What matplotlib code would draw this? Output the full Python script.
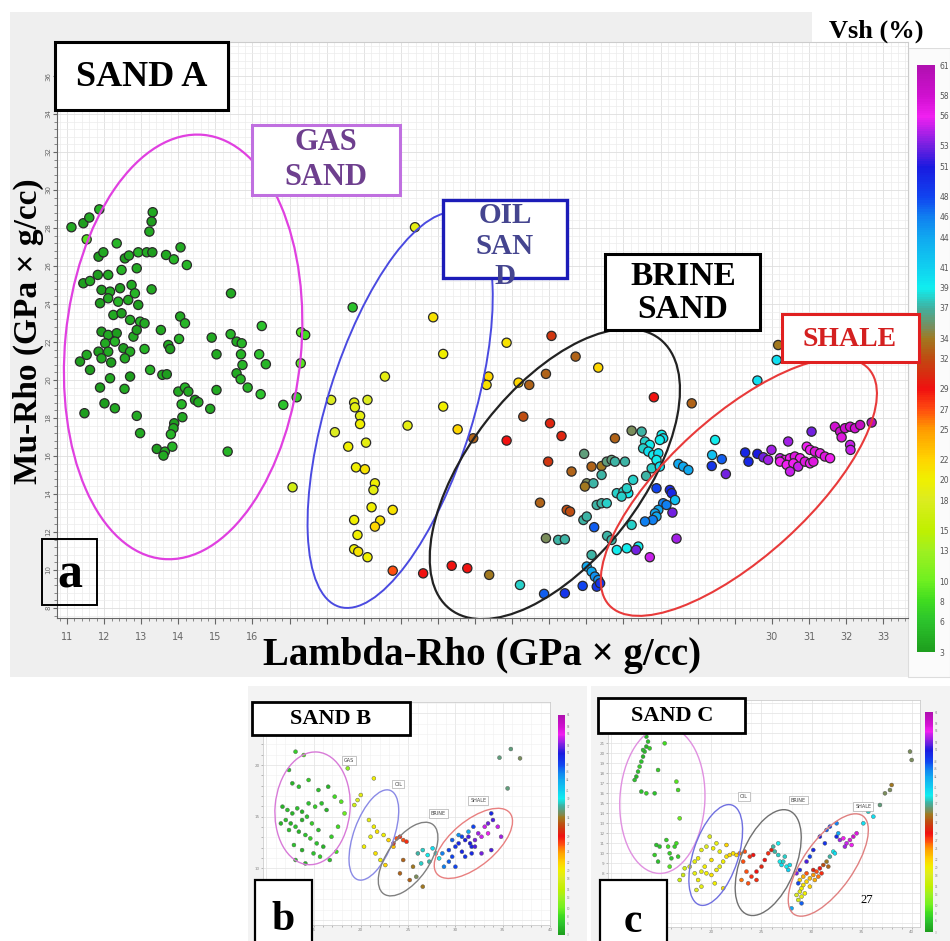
import numpy as np
import matplotlib
matplotlib.use("Agg")
from matplotlib import pyplot as plt
from matplotlib.colors import LinearSegmentedColormap
from matplotlib.patches import Ellipse, Rectangle
from matplotlib.transforms import ScaledTranslation
from matplotlib.ticker import MultipleLocator

# ---------------- data: panel a (SAND A) ----------------
gas_a_x = [11.12, 11.44, 11.60, 11.87, 11.53, 13.31, 13.28, 13.22, 12.34, 11.85,
           11.98, 12.56, 12.67, 12.92, 13.15, 13.30, 13.67, 13.88, 14.06, 14.23,
           11.44, 11.62, 11.83, 12.11, 12.47, 12.88, 11.93, 12.16, 12.43, 12.74,
           12.83, 13.28, 11.89, 12.11, 12.38, 12.65, 12.92, 12.25, 12.47, 12.70,
           12.97, 13.09, 14.05, 14.18, 15.42, 16.25, 17.31, 17.42, 11.93, 12.11,
           12.34, 12.03, 12.29, 12.79, 12.88, 13.53, 14.02, 13.73, 13.78, 14.90,
           15.41, 15.57, 15.71, 11.85, 12.11, 12.52, 12.70, 13.09, 15.03, 15.69,
           16.18, 16.36, 17.30, 11.35, 11.53, 11.62, 11.93, 12.19, 12.56, 13.24,
           13.57, 13.69, 15.73, 15.57, 15.68, 12.16, 12.70, 15.03, 15.87, 16.22,
           17.19, 16.83, 11.89, 12.55, 14.00, 14.18, 14.27, 14.45, 14.54, 12.01,
           12.29, 11.47, 12.88, 14.09, 14.86, 14.11, 13.89, 13.87, 13.80, 12.97,
           13.42, 13.64, 13.84, 13.60, 15.33, 18.70]
gas_a_y = [28.04, 28.25, 28.55, 28.98, 27.40, 28.83, 28.34, 27.81, 27.19, 26.49,
           26.72, 26.40, 26.55, 26.72, 26.72, 26.72, 26.58, 26.35, 26.98, 26.05,
           25.09, 25.21, 25.53, 25.53, 25.79, 25.88, 24.74, 24.65, 24.83, 25.00,
           24.56, 24.77, 24.04, 24.30, 24.12, 24.21, 23.95, 23.42, 23.51, 23.16,
           23.07, 22.98, 23.34, 22.98, 24.56, 22.84, 22.51, 22.37, 22.54, 22.37,
           22.46, 21.93, 22.02, 22.28, 22.63, 22.63, 22.16, 21.84, 21.63, 22.23,
           22.41, 22.02, 21.93, 21.49, 21.49, 21.67, 21.49, 21.63, 21.35, 21.35,
           21.35, 20.83, 20.88, 20.97, 21.32, 20.53, 21.14, 20.92, 21.14, 20.53,
           20.27, 20.30, 20.79, 20.35, 20.04, 20.09, 20.18, 19.47, 19.60, 19.25,
           19.09, 18.69, 19.60, 19.53, 19.39, 19.60, 19.39, 18.95, 18.83, 18.77,
           18.51, 18.25, 18.11, 18.72, 18.48, 18.04, 17.72, 17.46, 17.14, 17.20,
           16.37, 16.23, 16.49, 16.02, 16.23, 23.82]
gas_a_v = [4, 3, 4, 5, 9, 4, 3, 4, 5, 3, 4, 3, 4, 5, 4, 3, 4, 5, 4, 5,
           3, 4, 3, 4, 5, 4, 3, 4, 3, 4, 5, 4, 3, 4, 5, 4, 3, 4, 3, 4,
           5, 4, 4, 5, 4, 6, 9, 8, 3, 4, 3, 4, 5, 4, 3, 4, 5, 4, 3, 4,
           5, 4, 5, 3, 4, 3, 4, 5, 4, 5, 6, 5, 9, 3, 4, 3, 4, 3, 4, 5,
           4, 3, 5, 4, 5, 4, 3, 4, 5, 6, 7, 6, 3, 4, 4, 5, 4, 3, 4, 3,
           4, 3, 4, 5, 4, 4, 3, 4, 5, 4, 3, 4, 5, 4, 5, 6]

oil_a_x = [20.38, 20.87, 21.14, 22.85, 19.57, 18.12, 18.74, 18.76, 19.10, 18.90,
           18.90, 18.22, 20.18, 21.14, 21.53, 22.36, 22.31, 23.17, 18.58, 19.06,
           18.79, 19.03, 19.30, 19.26, 17.08, 19.21, 19.78, 18.74, 19.44, 19.30,
           18.83, 18.74, 18.85, 19.10]
oil_a_y = [28.04, 23.30, 21.37, 21.96, 20.18, 18.95, 18.81, 18.56, 18.95, 18.11,
           17.68, 17.25, 17.60, 18.60, 17.40, 20.18, 19.74, 19.86, 16.49, 16.70,
           15.40, 15.30, 14.56, 14.21, 14.35, 13.30, 13.16, 12.63, 12.60, 12.28,
           11.84, 11.09, 10.96, 10.67]
oil_a_v = [19, 21, 20, 21, 19, 18, 19, 19, 18, 19, 20, 18, 19, 20, 22, 22, 21,
           22, 20, 19, 20, 21, 20, 19, 17, 20, 21, 20, 21, 22, 20, 20, 21, 20]

brine_a_x = [21.95, 23.30, 22.85, 19.78, 20.60, 21.37, 21.79, 22.38, 23.21,
             24.06, 24.71, 25.32, 23.91, 23.46, 26.82, 24.02, 24.33, 25.77, 26.22,
             26.49, 27.03, 27.07, 26.98, 26.58, 26.71, 26.53, 26.67, 26.80, 26.94,
             26.89, 23.97, 24.94, 24.60, 25.14, 25.41, 25.55, 25.68, 25.77, 26.04,
             25.41, 25.01, 25.19, 24.96, 26.26, 26.61, 26.76, 26.98, 27.48, 27.61,
             27.75, 25.82, 26.00, 26.13, 26.09, 25.95, 25.28, 25.41, 25.55, 23.75,
             24.47, 24.56, 24.92, 25.01, 25.21, 26.89, 27.25, 27.30, 27.07, 27.16,
             27.39, 26.94, 26.85, 26.89, 26.79, 26.58, 27.32, 26.22, 27.43, 25.56,
             25.68, 25.82, 26.09, 26.40, 26.34, 26.71, 23.91, 24.24, 24.42, 25.14,
             25.01, 25.14, 25.23, 25.32, 24.90, 25.28, 25.37, 24.42, 23.86]
brine_a_y = [16.93, 18.07, 16.81, 9.96, 9.82, 10.22, 10.09, 9.74, 9.21,
             22.32, 21.23, 20.65, 20.32, 19.74, 19.09, 17.72, 17.05, 16.93, 17.33,
             17.28, 17.11, 16.93, 16.84, 16.76, 16.58, 16.40, 16.23, 16.05, 16.14,
             15.79, 15.70, 16.11, 15.18, 15.44, 15.47, 15.70, 15.79, 15.70, 15.70,
             15.00, 14.56, 14.56, 14.39, 14.74, 14.95, 15.35, 15.44, 15.58, 15.44,
             15.26, 14.04, 14.12, 14.04, 14.30, 13.86, 13.42, 13.51, 13.51, 13.54,
             13.16, 13.07, 12.63, 12.81, 12.25, 14.30, 14.21, 14.04, 13.51, 13.42,
             13.68, 13.16, 12.98, 12.81, 12.63, 12.55, 13.02, 12.37, 11.65, 11.79,
             11.58, 11.05, 11.14, 11.23, 11.05, 10.67, 11.67, 11.58, 11.61, 10.79,
             10.18, 9.91, 9.65, 9.47, 9.16, 9.12, 9.30, 8.77, 8.74]
brine_a_v = [33, 32, 29, 27, 29, 29, 29, 34, 38,
             31, 33, 22, 33, 33, 29, 30, 30, 33, 35,
             37, 39, 40, 39, 38, 39, 38, 40, 39, 40,
             39, 31, 36, 33, 33, 34, 36, 36, 37, 37,
             37, 35, 37, 34, 38, 37, 38, 40, 44, 44,
             44, 38, 38, 39, 38, 38, 37, 37, 38, 33,
             32, 32, 37, 37, 47, 48, 50, 50, 46, 46,
             42, 44, 44, 44, 46, 46, 53, 38, 54, 37,
             37, 39, 39, 39, 53, 55, 35, 37, 37, 37,
             44, 44, 45, 45, 48, 49, 49, 49, 47]

shale_a_x = [27.84, 30.13, 29.61, 30.17, 28.47, 28.39, 28.65, 28.38, 28.76, 29.28,
             29.37, 29.61, 29.77, 29.90, 29.99, 30.22, 30.35, 30.49, 30.62, 30.76,
             30.44, 30.22, 30.40, 30.58, 30.71, 30.49, 30.94, 31.03, 31.16, 31.30,
             31.43, 31.57, 31.07, 30.89, 31.03, 31.12, 31.70, 31.84, 31.97, 32.11,
             32.24, 32.38, 32.69, 31.88, 32.11, 32.12]
shale_a_y = [18.77, 21.05, 19.97, 21.84, 16.84, 16.05, 15.83, 15.47, 15.05, 16.18,
             15.70, 16.11, 15.93, 15.79, 16.32, 15.88, 15.79, 15.88, 15.97, 15.88,
             16.76, 15.70, 15.53, 15.61, 15.44, 15.18, 16.49, 16.32, 16.23, 16.14,
             15.97, 15.88, 17.28, 15.70, 15.61, 15.70, 17.54, 17.28, 17.46, 17.54,
             17.46, 17.63, 17.76, 16.98, 16.58, 16.32]
shale_a_v = [33, 40, 40, 34, 39, 42, 47, 49, 53, 50,
             50, 51, 53, 54, 54, 55, 56, 56, 57, 56,
             54, 56, 56, 56, 55, 55, 56, 56, 57, 56,
             57, 56, 53, 57, 56, 57, 58, 58, 58, 58,
             58, 59, 60, 57, 55, 55]

x_ticks_a = list(range(11, 34))
x_labels_a = ["11", "12", "13", "14", "15", "16"] + [""] * 13 + ["30", "31", "32", "33"]
y_ticks_a = list(range(8, 38, 2))
cb_ticks = [3, 6, 8, 10, 13, 15, 18, 20, 22, 25, 27, 29, 32, 34, 37, 39, 41,
            44, 46, 48, 51, 53, 56, 58, 61]

# ---------------- data: panel b (SAND B) ----------------
b_x = [13.10, 13.97, 12.41, 12.76, 13.45, 14.48, 15.52, 16.55, 17.24, 17.93,
       11.72, 12.24, 12.76, 13.28, 13.79, 14.48, 15.17, 15.86, 16.38, 12.07,
       12.59, 13.10, 13.79, 14.31, 14.83, 15.52, 11.55, 12.41, 13.45, 14.14,
       14.66, 15.34, 16.03, 16.90, 17.59, 12.93, 13.79, 15.00, 15.69, 13.10,
       14.14, 16.72, 17.41, 18.28, 18.62,
       19.31, 19.66, 20.00, 21.38, 20.86, 21.38, 21.72, 22.41, 22.93, 21.03,
       20.34, 21.55, 22.07, 22.59, 23.45,
       23.79, 24.14, 24.48, 23.45, 24.83, 24.48, 25.52, 25.86, 25.17, 26.55,
       24.14, 26.03, 26.55, 27.07, 27.59, 27.93, 28.28, 27.24, 26.38,
       28.62, 29.31, 29.66, 30.00, 30.34, 30.69, 31.03, 31.38, 31.72, 32.07,
       32.41, 32.76, 33.10, 33.45, 33.79, 33.97, 31.03, 31.72, 29.31, 30.00,
       28.79, 33.45, 34.48, 34.83, 33.79, 32.76, 29.66, 30.34, 31.38, 31.90,
       30.69, 32.07, 31.55, 35.86, 34.66, 36.83, 35.52]
b_y = [21.29, 20.97, 19.52, 18.23, 17.90, 18.55, 17.58, 17.90, 16.94, 16.45,
       15.97, 15.65, 15.32, 15.81, 15.48, 16.29, 15.97, 16.29, 15.65, 14.68,
       14.35, 14.03, 14.68, 15.00, 14.35, 13.71, 14.35, 13.71, 13.55, 13.23,
       12.90, 12.42, 12.10, 13.06, 14.03, 12.26, 11.77, 11.45, 11.13, 10.81,
       10.48, 10.81, 11.61, 15.32, 19.68,
       16.13, 16.61, 17.10, 18.71, 14.68, 14.03, 13.55, 13.23, 12.74, 13.06,
       12.10, 11.45, 10.81, 10.32, 12.10,
       12.90, 13.06, 12.74, 12.42, 12.58, 10.81, 10.16, 9.19, 8.87, 8.23,
       9.52, 11.45, 11.77, 11.29, 11.94, 11.45, 10.97, 10.65, 10.48,
       11.45, 11.77, 11.13, 12.10, 12.42, 11.61, 12.74, 13.06, 12.10, 12.74,
       13.39, 13.06, 14.03, 14.35, 15.32, 14.68, 11.13, 11.45, 10.65, 10.16,
       10.16, 13.39, 14.03, 13.06, 11.77, 11.45, 12.74, 13.23, 13.55, 14.03,
       13.06, 12.10, 12.42, 21.55, 20.71, 20.65, 17.74]
b_v = [7, 9, 6, 5, 6, 7, 6, 5, 8, 9,
       5, 6, 5, 6, 5, 6, 7, 6, 5, 6,
       5, 6, 5, 6, 7, 6, 5, 6, 5, 6,
       7, 6, 5, 7, 8, 6, 5, 6, 7, 6,
       5, 6, 8, 10, 12,
       17, 18, 19, 20, 19, 20, 21, 20, 22, 19,
       20, 21, 20, 22, 23,
       27, 28, 27, 29, 28, 33, 34, 35, 33, 34,
       33, 37, 38, 39, 40, 38, 39, 37, 38,
       46, 48, 48, 49, 50, 50, 51, 52, 50, 53,
       54, 55, 55, 53, 50, 52, 49, 50, 47, 48,
       46, 56, 55, 54, 52, 53, 47, 45, 44, 48,
       48, 52, 51, 36, 36, 35, 36]
b_xticks = [10, 15, 20, 25, 30, 35, 40]
b_yticks = [5, 10, 15, 20, 25]

# ---------------- data: panel c (SAND C) ----------------
c_x = [13.50, 13.67, 13.50, 13.33, 13.17, 13.00, 12.83, 12.67, 12.50, 12.33,
       13.83, 13.17, 15.33, 14.67, 16.50, 16.67, 13.00, 13.50, 14.33, 16.83,
       14.50, 14.33, 14.67, 15.50, 15.67, 15.83, 16.00, 16.33, 16.50, 16.67,
       15.83, 14.83,
       17.33, 17.83, 18.33, 18.67, 19.00, 19.50, 20.00, 20.50, 20.83, 21.17,
       21.50, 21.83, 22.17, 20.83, 20.17, 19.50, 19.00, 18.67, 18.33, 19.33,
       20.00, 20.50, 19.83, 21.50, 22.50, 18.50, 19.00, 16.83, 17.17, 20.33,
       21.17,
       22.83, 23.33, 23.83, 24.17, 23.50, 24.00, 24.50, 23.00, 25.00, 25.33,
       25.67, 26.00, 23.17, 24.50, 23.67,
       26.33, 26.67, 26.83, 27.00, 27.17, 27.50, 27.67, 27.83, 27.33, 26.17,
       26.67,
       28.50, 28.83, 29.00, 29.17, 29.50, 29.83, 30.17, 30.50, 30.83, 31.17,
       31.50, 31.83, 32.17, 28.67, 29.00, 29.33, 29.83, 30.33, 30.67, 31.00,
       31.67, 32.33, 28.83, 29.17, 29.50, 30.17,
       28.50, 28.83, 28.67, 29.00, 29.50, 29.83, 31.50, 31.83, 32.50, 32.83,
       33.17, 33.50, 33.83, 34.17, 34.50, 33.33, 34.00, 30.17, 30.83, 31.33,
       32.67, 32.50, 35.17, 35.67, 36.17, 36.83, 37.33, 37.83, 38.00, 39.83,
       40.00, 28.00]
c_y = [21.67, 21.17, 20.67, 20.17, 19.67, 19.17, 18.67, 18.17, 17.67, 17.33,
       20.50, 20.33, 21.00, 18.33, 17.17, 16.33, 16.17, 16.00, 16.00, 13.50,
       10.83, 9.83, 9.17, 11.33, 10.67, 10.00, 9.50, 10.67, 11.00, 9.67,
       8.67, 10.67,
       8.50, 8.67, 8.00, 7.33, 8.17, 8.00, 7.83, 8.33, 8.67, 9.17,
       9.67, 9.83, 10.00, 10.17, 10.50, 10.67, 10.33, 9.50, 9.17, 8.67,
       9.33, 11.00, 11.67, 10.83, 9.83, 6.33, 6.67, 7.33, 7.83, 7.00,
       6.50,
       10.00, 10.17, 9.67, 9.83, 8.17, 7.67, 8.17, 7.33, 8.67, 9.33,
       10.00, 10.33, 9.17, 7.33, 7.00,
       10.17, 9.83, 9.17, 8.83, 9.17, 8.67, 8.33, 8.83, 9.67, 10.67,
       11.00,
       5.83, 6.17, 6.50, 6.83, 7.17, 7.50, 7.83, 8.17, 8.50, 8.83,
       9.17, 9.67, 10.17, 5.33, 5.67, 6.00, 6.67, 7.33, 7.67, 8.00,
       8.67, 10.00, 7.33, 7.67, 8.00, 8.33,
       8.00, 8.33, 7.00, 5.00, 9.17, 9.67, 12.33, 12.67, 11.67, 11.33,
       11.50, 11.00, 11.33, 11.67, 12.00, 10.67, 10.83, 10.33, 11.67, 11.00,
       12.00, 13.00, 13.00, 14.17, 13.67, 14.83, 16.00, 16.33, 16.83, 20.17,
       19.33, 4.50]
c_v = [5, 6, 5, 6, 5, 6, 7, 6, 5, 6,
       7, 6, 8, 7, 9, 8, 6, 7, 6, 10,
       6, 7, 6, 7, 8, 7, 6, 7, 8, 7,
       9, 6,
       17, 18, 19, 20, 19, 20, 21, 20, 19, 20,
       21, 22, 21, 19, 20, 18, 19, 20, 19, 20,
       21, 19, 18, 22, 22, 18, 19, 16, 17, 20,
       21,
       26, 27, 28, 29, 27, 28, 29, 26, 30, 29,
       28, 30, 27, 28, 27,
       37, 38, 39, 40, 38, 39, 41, 40, 38, 37,
       39,
       18, 19, 20, 21, 22, 23, 25, 27, 29, 32,
       34, 37, 39, 17, 19, 20, 22, 24, 26, 28,
       33, 40, 22, 24, 27, 30,
       53, 50, 48, 47, 52, 48, 47, 48, 50, 54,
       56, 55, 57, 58, 57, 54, 56, 50, 51, 49,
       44, 46, 40, 38, 40, 36, 35, 35, 34, 35,
       35, 44]
c_xticks = [10, 15, 20, 25, 30, 35, 40]
c_yticks = list(range(3, 26))

# ---------------- styling ----------------
W, H = 950, 941
SERIF = ["Liberation Serif", "DejaVu Serif"]
cmap = LinearSegmentedColormap.from_list("vsh", [
    ((v - 3) / 58.0, c) for v, c in [
        (3, "#1e9e1e"), (6, "#2cc42c"), (8, "#40dc20"), (10, "#70f020"),
        (13, "#a0f020"), (15, "#c0f000"), (18, "#dcec20"), (20, "#f0f000"),
        (22, "#ffd400"), (25, "#ff9a00"), (27, "#ff4a10"), (29, "#f01010"),
        (32, "#c04a10"), (34, "#a07a20"), (35, "#7c8c58"), (37, "#40b0a0"),
        (39, "#10eef0"), (41, "#10d0f0"), (44, "#10a8f0"), (46, "#1080f0"),
        (48, "#1044f0"), (51, "#1a1ae0"), (53, "#7020e0"), (56, "#f020f0"),
        (58, "#d010d0"), (61, "#b010b0")]])

fig = plt.figure(figsize=(W / 100, H / 100), dpi=100)


def axes_px(x0, y0, x1, y1):
    return fig.add_axes([x0 / W, 1 - y1 / H, (x1 - x0) / W, (y1 - y0) / H])


def rect_px(x0, y0, x1, y1, fc="none", ec="none", lw=0, z=-5):
    fig.add_artist(Rectangle((x0 / W, 1 - y1 / H), (x1 - x0) / W, (y1 - y0) / H,
                             transform=fig.transFigure, fc=fc, ec=ec, lw=lw, zorder=z))


def ring(ax, cx, cy, w, h, ang, color, lw):
    # ellipse sized in inches, centred on a data point
    tr = fig.dpi_scale_trans + ScaledTranslation(cx, cy, ax.transData)
    ax.add_patch(Ellipse((0, 0), w, h, angle=ang, transform=tr, fill=False,
                         ec=color, lw=lw, zorder=4))


def label_px(x, y, s, size, color="black", ls=1.2):
    fig.text(x / W, 1 - y / H, s, ha="center", va="center", fontsize=size,
             family=SERIF, weight="bold", color=color, linespacing=ls, zorder=12)


# backgrounds
rect_px(10, 12, 908, 677, fc="#efefef")
rect_px(908, 48, 950, 677, fc="#fbfbfb", ec="#dddddd", lw=0.8)
rect_px(812, 12, 950, 48, fc="white")
rect_px(248, 686, 587, 941, fc="#f3f3f3")
rect_px(591, 686, 950, 941, fc="#f3f3f3")

# ---------------- panel a ----------------
ax = axes_px(57, 42, 908, 618)
ax.set_xlim(10.73, 33.67)
ax.set_ylim(7.47, 37.79)
ax.set_facecolor("white")
pts = dict(cmap=cmap, vmin=3, vmax=61, s=44, edgecolors="#2a2a2a", linewidths=0.9, zorder=3)
sc = ax.scatter(gas_a_x, gas_a_y, c=gas_a_v, **pts)
ax.scatter(oil_a_x, oil_a_y, c=oil_a_v, **pts)
ax.scatter(brine_a_x, brine_a_y, c=brine_a_v, **pts)
ax.scatter(shale_a_x, shale_a_y, c=shale_a_v, **pts)

ax.set_xticks(x_ticks_a)
ax.set_xticklabels(x_labels_a)
ax.set_yticks(y_ticks_a)
ax.set_yticklabels([str(v) for v in y_ticks_a], rotation=90, va="center")
ax.xaxis.set_minor_locator(MultipleLocator(0.2))
ax.yaxis.set_minor_locator(MultipleLocator(0.4))
ax.grid(which="major", color="#dedede", lw=0.6)
ax.grid(which="minor", color="#ececec", lw=0.5)
ax.set_axisbelow(True)
ax.tick_params(which="major", direction="out", length=4, width=0.8, colors="#666666",
               labelsize=7, pad=6)
ax.tick_params(which="minor", direction="out", length=2, width=0.6, colors="#777777")
ax.tick_params(axis="y", which="major", labelsize=5, length=3, pad=1)
for side in ["left", "bottom"]:
    ax.spines[side].set_color("#666666")
for side in ["top", "right"]:
    ax.spines[side].set_color("#cccccc")

ring(ax, 14.13, 21.74, 2.36, 4.26, -5.5, "#e040e0", 1.6)
ring(ax, 19.98, 18.42, 1.46, 4.12, -17.2, "#4a4ae0", 1.4)
ring(ax, 24.15, 15.05, 1.73, 3.42, -37.8, "#222222", 1.6)
ring(ax, 29.11, 14.37, 1.40, 3.51, -47.7, "#e83a3a", 1.5)

cax = axes_px(917, 65, 935, 652)
cb = fig.colorbar(sc, cax=cax, ticks=cb_ticks)
cb.outline.set_visible(False)
cax.tick_params(labelsize=5.5, colors="#555555", length=0, pad=3)

# annotation boxes
rect_px(55, 42, 228, 110, fc="white", ec="black", lw=2.2, z=10)
label_px(142, 77, "SAND A", 26)
rect_px(252, 125, 400, 195, fc="white", ec="#c070e0", lw=2.2, z=10)
label_px(326, 160, "GAS\nSAND", 22, color="#6e3f8e", ls=1.25)
rect_px(443, 200, 567, 278, fc="white", ec="#1c1cb8", lw=2.4, z=10)
label_px(505, 246, "OIL\nSAN\nD", 21, color="#45458f", ls=1.15)
rect_px(605, 254, 760, 330, fc="white", ec="black", lw=2.2, z=10)
label_px(683, 293, "BRINE\nSAND", 24, ls=1.12)
rect_px(782, 314, 919, 362, fc="white", ec="#e02020", lw=2.2, z=10)
label_px(850, 339, "SHALE", 20, color="#d42020")
rect_px(42, 539, 97, 605, fc="none", ec="black", lw=1.4, z=10)
label_px(70, 576, "a", 36)

label_px(482, 655, "Lambda-Rho (GPa × g/cc)", 28)
fig.text(28 / W, 1 - 331 / H, "Mu-Rho (GPa × g/cc)", rotation=90, ha="center", va="center",
         fontsize=24, family=SERIF, weight="bold", zorder=12)
label_px(876, 31, "Vsh (%)", 19)


# ---------------- small panels ----------------
def small_panel(box, cbox, xs, ys, vs, xlim, ylim, xticks, yticks):
    sax = axes_px(*box)
    sax.set_xlim(*xlim)
    sax.set_ylim(*ylim)
    sax.set_facecolor("white")
    s = sax.scatter(xs, ys, c=vs, cmap=cmap, vmin=3, vmax=61, s=8,
                    edgecolors="#555555", linewidths=0.3, zorder=3)
    sax.set_xticks(xticks)
    sax.set_yticks(yticks)
    sax.xaxis.set_minor_locator(MultipleLocator(1))
    sax.yaxis.set_minor_locator(MultipleLocator(1))
    sax.grid(which="major", color="#e2e2e2", lw=0.5)
    sax.grid(which="minor", color="#efefef", lw=0.4)
    sax.set_axisbelow(True)
    sax.tick_params(which="both", direction="out", length=1.5, width=0.4,
                    colors="#888888", labelsize=3, pad=1)
    for sp in sax.spines.values():
        sp.set_color("#cccccc")
        sp.set_linewidth(0.6)
    scx = axes_px(*cbox)
    scb = fig.colorbar(s, cax=scx, ticks=cb_ticks)
    scb.outline.set_visible(False)
    scx.tick_params(labelsize=2, colors="#888888", length=0, pad=1)
    return sax


def tag(sax, x, y, s):
    sax.text(x, y, s, fontsize=3.5, ha="center", va="center", color="#444444", zorder=6,
             bbox=dict(boxstyle="square,pad=0.4", fc="white", ec="#999999", lw=0.4))


bax = small_panel((263, 702, 550, 925), (558, 715, 565, 935), b_x, b_y, b_v,
                  (9.66, 39.3), (4.52, 26.1), b_xticks, b_yticks)
ring(bax, 14.90, 15.81, 0.75, 1.13, -5, "#d87ad8", 1.0)
ring(bax, 21.38, 13.23, 0.40, 0.95, -20, "#8a8ae6", 1.0)
ring(bax, 25.0, 10.90, 0.42, 0.85, -35, "#808080", 1.0)
ring(bax, 31.9, 12.42, 0.45, 0.95, -50, "#e88080", 1.0)
tag(bax, 18.79, 20.48, "GAS")
tag(bax, 23.97, 18.16, "OIL")
tag(bax, 28.21, 15.32, "BRINE")
tag(bax, 32.41, 16.61, "SHALE")

cax2 = small_panel((608, 700, 920, 927), (925, 712, 933, 932), c_x, c_y, c_v,
                   (9.67, 40.83), (2.63, 25.33), c_xticks, c_yticks)
ring(cax2, 15.10, 15.33, 0.85, 1.47, -3, "#e090e0", 1.0)
ring(cax2, 20.43, 9.83, 0.45, 1.05, -18, "#7070e0", 1.0)
ring(cax2, 25.67, 9.07, 0.55, 1.12, -22, "#707070", 1.0)
ring(cax2, 31.67, 8.83, 0.50, 1.20, -35, "#e08080", 1.0)
tag(cax2, 23.23, 15.67, "OIL")
tag(cax2, 28.67, 15.33, "BRINE")
tag(cax2, 35.17, 14.67, "SHALE")

rect_px(252, 702, 410, 735, fc="white", ec="black", lw=2.0, z=10)
label_px(331, 719, "SAND B", 16)
rect_px(255, 880, 312, 945, fc="white", ec="black", lw=1.6, z=10)
label_px(283, 920, "b", 30)
rect_px(598, 698, 745, 733, fc="white", ec="black", lw=2.0, z=10)
label_px(672, 716, "SAND C", 16)
rect_px(600, 880, 667, 945, fc="white", ec="black", lw=1.6, z=10)
label_px(633, 922, "c", 30)
fig.text(867 / W, 1 - 900 / H, "27", fontsize=9, family=SERIF, ha="center", va="center",
         zorder=12)

fig.savefig("out.png", dpi=100)
